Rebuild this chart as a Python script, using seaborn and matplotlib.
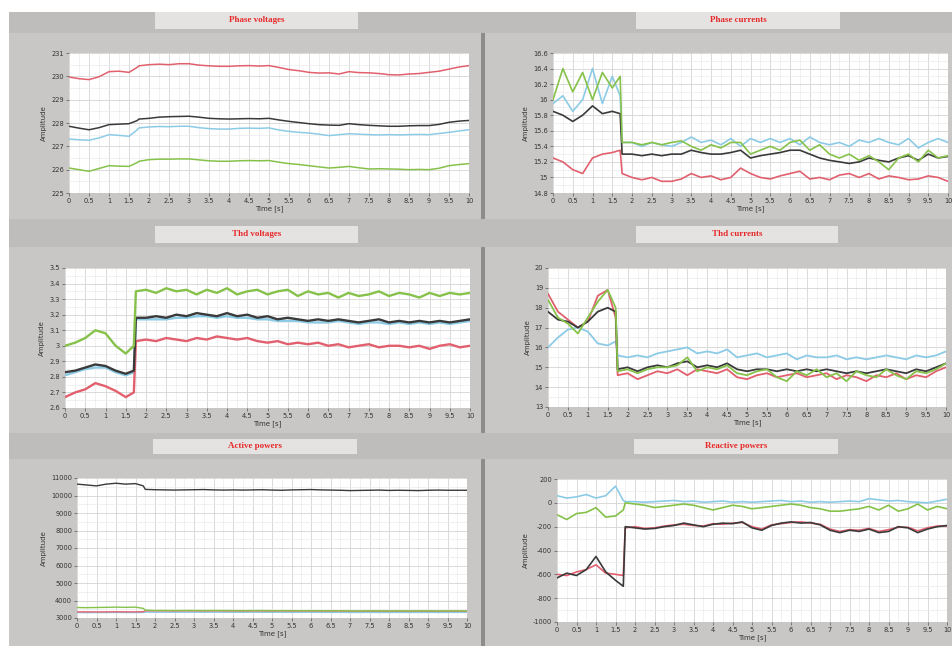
import numpy as np
import pandas as pd
import matplotlib
matplotlib.use("Agg")
import matplotlib.pyplot as plt
import matplotlib.patches as mpatches
from matplotlib.ticker import MultipleLocator, FormatStrFormatter
import seaborn as sns

# time axis [s] shared by every trace (two samples around the step at ~1.7 s)
time_s = [0, 0.25, 0.5, 0.75, 1, 1.25, 1.5, 1.7, 1.75,
          2, 2.25, 2.5, 2.75, 3, 3.25, 3.5, 3.75, 4, 4.25, 4.5, 4.75,
          5, 5.25, 5.5, 5.75, 6, 6.25, 6.5, 6.75, 7, 7.25, 7.5, 7.75,
          8, 8.25, 8.5, 8.75, 9, 9.25, 9.5, 9.75, 10]

phases = ['L1', 'N', 'L2', 'L3']
colors = {'L1': '#e2606e', 'N': '#3a3a3a', 'L2': '#8ccbe6', 'L3': '#86c24a'}

# phase voltages [V]
pv_l1 = [229.97, 229.9, 229.86, 229.98, 230.2, 230.22, 230.17, 230.38, 230.45,
         230.5, 230.52, 230.5, 230.54, 230.54, 230.48, 230.45, 230.43, 230.43, 230.45, 230.46, 230.44,
         230.46, 230.38, 230.29, 230.24, 230.17, 230.14, 230.15, 230.1, 230.2, 230.16, 230.15, 230.12,
         230.07, 230.06, 230.1, 230.12, 230.17, 230.22, 230.31, 230.4, 230.46]
pv_n = [227.86, 227.78, 227.71, 227.8, 227.93, 227.95, 227.97, 228.1, 228.17,
        228.2, 228.25, 228.27, 228.28, 228.29, 228.25, 228.2, 228.18, 228.17, 228.18, 228.19, 228.18,
        228.2, 228.13, 228.07, 228.02, 227.97, 227.93, 227.91, 227.9, 227.97, 227.93, 227.9, 227.88,
        227.86, 227.86, 227.88, 227.89, 227.89, 227.94, 228.03, 228.08, 228.11]
pv_l2 = [227.31, 227.28, 227.26, 227.36, 227.5, 227.47, 227.43, 227.7, 227.79,
         227.83, 227.85, 227.84, 227.86, 227.86, 227.8, 227.76, 227.74, 227.74, 227.77, 227.78, 227.77,
         227.79, 227.7, 227.64, 227.6, 227.57, 227.52, 227.46, 227.5, 227.54, 227.52, 227.5, 227.49,
         227.5, 227.49, 227.5, 227.51, 227.5, 227.55, 227.6, 227.66, 227.71]
pv_l3 = [226.07, 226.0, 225.93, 226.05, 226.17, 226.15, 226.14, 226.3, 226.36,
         226.43, 226.45, 226.45, 226.46, 226.46, 226.42, 226.38, 226.36, 226.36, 226.38, 226.39, 226.38,
         226.39, 226.32, 226.26, 226.22, 226.17, 226.12, 226.07, 226.1, 226.14, 226.08, 226.03, 226.04,
         226.03, 226.02, 226.0, 226.01, 226.0, 226.06, 226.17, 226.22, 226.26]

# phase currents [A]
pc_l1 = [15.25, 15.2, 15.1, 15.05, 15.25, 15.3, 15.32, 15.35, 15.05,
         15.0, 14.97, 15.0, 14.95, 14.95, 14.98, 15.05, 15.0, 15.02, 14.97, 15.0, 15.12,
         15.05, 15.0, 14.98, 15.02, 15.05, 15.08, 14.98, 15.0, 14.97, 15.03, 15.05, 15.0,
         15.05, 14.98, 15.02, 15.0, 14.97, 14.98, 15.02, 15.0, 14.95]
pc_n = [15.85, 15.8, 15.72, 15.8, 15.92, 15.82, 15.85, 15.82, 15.3,
        15.3, 15.28, 15.3, 15.28, 15.3, 15.3, 15.35, 15.32, 15.3, 15.3, 15.32, 15.35,
        15.25, 15.28, 15.3, 15.32, 15.35, 15.35, 15.3, 15.25, 15.22, 15.2, 15.18, 15.2,
        15.25, 15.22, 15.2, 15.25, 15.28, 15.22, 15.3, 15.25, 15.27]
pc_l2 = [15.95, 16.05, 15.85, 16.0, 16.4, 15.95, 16.3, 16.05, 15.45,
         15.45, 15.4, 15.45, 15.42, 15.4, 15.45, 15.52, 15.45, 15.48, 15.42, 15.5, 15.4,
         15.5, 15.45, 15.5, 15.45, 15.5, 15.42, 15.52, 15.45, 15.42, 15.45, 15.4, 15.48,
         15.45, 15.5, 15.45, 15.42, 15.5, 15.38, 15.45, 15.5, 15.45]
pc_l3 = [16.0, 16.4, 16.1, 16.35, 16.0, 16.35, 16.15, 16.3, 15.45,
         15.45, 15.42, 15.45, 15.42, 15.45, 15.47, 15.4, 15.35, 15.42, 15.38, 15.45, 15.45,
         15.3, 15.35, 15.4, 15.35, 15.45, 15.48, 15.35, 15.42, 15.3, 15.25, 15.3, 15.22,
         15.28, 15.2, 15.1, 15.25, 15.3, 15.2, 15.35, 15.25, 15.28]

# THD voltages [%]
tv_l1 = [2.67, 2.7, 2.72, 2.76, 2.74, 2.71, 2.67, 2.7, 3.03,
         3.04, 3.03, 3.05, 3.04, 3.03, 3.05, 3.04, 3.06, 3.05, 3.04, 3.05, 3.03,
         3.02, 3.03, 3.01, 3.02, 3.01, 3.02, 3.0, 3.01, 2.99, 3.0, 3.01, 2.99,
         3.0, 3.0, 2.99, 3.0, 2.98, 3.0, 3.01, 2.99, 3.0]
tv_n = [2.83, 2.84, 2.86, 2.88, 2.87, 2.84, 2.82, 2.84, 3.18,
        3.18, 3.19, 3.18, 3.2, 3.19, 3.21, 3.2, 3.19, 3.21, 3.19, 3.2, 3.18,
        3.19, 3.17, 3.18, 3.17, 3.16, 3.17, 3.16, 3.17, 3.16, 3.15, 3.16, 3.17,
        3.15, 3.16, 3.15, 3.16, 3.15, 3.16, 3.15, 3.16, 3.17]
tv_l2 = [2.81, 2.83, 2.85, 2.86, 2.86, 2.83, 2.81, 2.83, 3.17,
         3.17, 3.17, 3.17, 3.18, 3.18, 3.19, 3.19, 3.18, 3.19, 3.18, 3.18, 3.17,
         3.17, 3.16, 3.16, 3.16, 3.15, 3.15, 3.15, 3.16, 3.15, 3.14, 3.15, 3.15,
         3.14, 3.15, 3.14, 3.15, 3.14, 3.15, 3.14, 3.15, 3.16]
tv_l3 = [3.0, 3.02, 3.05, 3.1, 3.08, 3.0, 2.95, 3.0, 3.35,
         3.36, 3.34, 3.37, 3.35, 3.36, 3.33, 3.36, 3.34, 3.37, 3.33, 3.35, 3.36,
         3.33, 3.35, 3.36, 3.32, 3.35, 3.33, 3.34, 3.31, 3.34, 3.32, 3.33, 3.35,
         3.32, 3.34, 3.33, 3.31, 3.34, 3.32, 3.34, 3.33, 3.34]

# THD currents [%]
tc_l1 = [18.7, 17.8, 17.4, 17.0, 17.3, 18.6, 18.9, 17.5, 14.6,
         14.7, 14.4, 14.6, 14.8, 14.7, 14.9, 14.6, 14.9, 14.8, 14.7, 14.9, 14.5,
         14.4, 14.6, 14.7, 14.5, 14.6, 14.7, 14.5, 14.6, 14.7, 14.4, 14.6, 14.5,
         14.3, 14.6, 14.5, 14.7, 14.4, 14.6, 14.5, 14.8, 15.0]
tc_n = [17.8, 17.4, 17.3, 17.0, 17.3, 17.8, 18.0, 17.8, 14.9,
        15.0, 14.8, 15.0, 15.1, 15.0, 15.2, 15.3, 15.0, 15.1, 15.0, 15.2, 14.9,
        14.8, 14.9, 14.9, 14.8, 14.9, 14.8, 14.9, 14.8, 14.9, 14.8, 14.7, 14.8,
        14.7, 14.8, 14.9, 14.8, 14.7, 14.9, 14.8, 15.0, 15.2]
tc_l2 = [16.0, 16.5, 16.9, 17.0, 16.8, 16.2, 16.1, 16.3, 15.6,
         15.5, 15.6, 15.5, 15.7, 15.8, 15.9, 16.0, 15.7, 15.8, 15.7, 15.9, 15.5,
         15.6, 15.7, 15.5, 15.6, 15.7, 15.4, 15.6, 15.5, 15.5, 15.6, 15.4, 15.5,
         15.4, 15.5, 15.6, 15.5, 15.4, 15.6, 15.5, 15.6, 15.8]
tc_l3 = [18.4, 17.5, 17.2, 16.7, 17.5, 18.3, 18.9, 18.0, 14.8,
         14.9, 14.7, 14.9, 15.0, 15.0, 15.1, 15.5, 14.8, 15.0, 14.9, 15.1, 14.7,
         14.6, 14.8, 14.9, 14.5, 14.3, 14.8, 14.6, 14.9, 14.5, 14.7, 14.3, 14.8,
         14.6, 14.5, 14.9, 14.6, 14.4, 14.8, 14.7, 14.9, 15.2]

# active powers [W]
ap_l1 = [3350, 3350, 3345, 3350, 3355, 3350, 3350, 3360, 3410,
         3410, 3410, 3405, 3410, 3410, 3405, 3410, 3405, 3405, 3400, 3405, 3405,
         3400, 3405, 3400, 3400, 3405, 3400, 3400, 3395, 3395, 3390, 3395, 3395,
         3390, 3395, 3390, 3395, 3395, 3390, 3395, 3395, 3395]
ap_n = [10650, 10600, 10550, 10650, 10700, 10650, 10680, 10550, 10350,
        10330, 10320, 10310, 10320, 10330, 10340, 10320, 10310, 10320, 10310, 10320, 10330,
        10310, 10300, 10320, 10330, 10340, 10320, 10310, 10300, 10280, 10290, 10300, 10310,
        10290, 10300, 10290, 10280, 10300, 10310, 10300, 10300, 10300]
ap_l2 = [3310, 3305, 3310, 3310, 3315, 3310, 3310, 3315, 3330,
         3330, 3330, 3325, 3330, 3330, 3325, 3330, 3330, 3325, 3325, 3330, 3325,
         3325, 3325, 3320, 3325, 3325, 3320, 3320, 3320, 3315, 3315, 3320, 3315,
         3315, 3320, 3315, 3315, 3320, 3315, 3320, 3320, 3320]
ap_l3 = [3600, 3590, 3600, 3610, 3620, 3610, 3620, 3550, 3450,
         3430, 3430, 3425, 3430, 3430, 3425, 3430, 3425, 3425, 3420, 3425, 3425,
         3420, 3420, 3420, 3415, 3420, 3415, 3410, 3410, 3405, 3400, 3405, 3405,
         3400, 3405, 3400, 3405, 3405, 3400, 3405, 3405, 3405]

# reactive powers [var]
rp_l1 = [-600, -610, -580, -560, -520, -590, -600, -610, -210,
         -200, -215, -210, -195, -185, -180, -190, -195, -175, -180, -170, -165,
         -200, -220, -185, -175, -165, -160, -170, -180, -220, -240, -225, -230,
         -215, -240, -225, -205, -205, -235, -210, -195, -195]
rp_n = [-630, -590, -610, -560, -450, -580, -650, -700, -200,
        -210, -220, -215, -200, -190, -170, -185, -200, -180, -170, -175, -160,
        -210, -230, -190, -170, -160, -170, -165, -185, -230, -250, -230, -240,
        -220, -250, -240, -200, -210, -250, -220, -200, -190]
rp_l2 = [60, 40, 50, 70, 40, 60, 140, 20, 10,
         10, 5, 10, 15, 20, 10, 15, 5, 10, 15, 5, 10,
         5, 10, 15, 20, 10, 15, 5, 10, 5, 10, 15, 10,
         35, 25, 15, 20, 10, 5, 0, 15, 30]
rp_l3 = [-100, -140, -90, -80, -40, -120, -110, -60, 0,
         -10, -20, -40, -30, -20, -10, -20, -40, -60, -40, -20, -30,
         -50, -40, -30, -20, -10, -20, -40, -50, -70, -70, -60, -50,
         -30, -60, -20, -70, -50, -10, -60, -30, -50]

xticks = np.arange(0, 10.01, 0.5)

# (title, traces, y range, y step, line width, axes box px: l, t, r, b, title box px)
panels = [
    ('Phase voltages', [pv_l1, pv_n, pv_l2, pv_l3], (225, 231), 1, 1.1,
     (69, 53, 469, 193), (155, 12, 358, 29)),
    ('Phase currents', [pc_l1, pc_n, pc_l2, pc_l3], (14.8, 16.6), 0.2, 1.2,
     (553, 53, 948, 193), (636, 12, 840, 29)),
    ('Thd voltages', [tv_l1, tv_n, tv_l2, tv_l3], (2.6, 3.5), 0.1, 1.7,
     (65, 268, 470, 408), (155, 226, 358, 243)),
    ('Thd currents', [tc_l1, tc_n, tc_l2, tc_l3], (13, 20), 1, 1.3,
     (548, 268, 946, 407), (636, 226, 838, 243)),
    ('Active powers', [ap_l1, ap_n, ap_l2, ap_l3], (3000, 11000), 1000, 1.0,
     (77, 478, 467, 618), (153, 439, 357, 454)),
    ('Reactive powers', [rp_l1, rp_n, rp_l2, rp_l3], (-1000, 200), 200, 1.2,
     (557, 479, 947, 622), (634, 439, 838, 454)),
]

sns.set_style('white')
plt.rcParams['font.family'] = ['DejaVu Sans']

W, H = 952, 646
fig = plt.figure(figsize=(W / 100, H / 100), dpi=100)
fig.patch.set_facecolor('white')


def px_rect(x0, y0, x1, y1, color, z=-5):
    fig.patches.append(mpatches.Rectangle((x0 / W, 1 - y1 / H), (x1 - x0) / W, (y1 - y0) / H,
                                          transform=fig.transFigure, facecolor=color,
                                          edgecolor='none', zorder=z))


# LabVIEW-like gray front panel
px_rect(9, 12, W, H, '#c9c7c5', z=-10)
for y0, y1 in [(12, 33), (219, 247), (433, 459)]:
    px_rect(9, y0, W, y1, '#bfbdbb', z=-9)
px_rect(481, 33, 485, 219, '#8e8c8a', z=-9)
px_rect(481, 247, 485, 433, '#8e8c8a', z=-9)
px_rect(481, 459, 485, H, '#8e8c8a', z=-9)

for title, traces, ylim, ystep, lw, box, tbox in panels:
    px_rect(tbox[0], tbox[1], tbox[2], tbox[3], '#e4e3e2', z=-8)
    fig.text((tbox[0] + tbox[2]) / 2 / W, 1 - (tbox[1] + tbox[3]) / 2 / H, title,
             ha='center', va='center', color='#e82828', fontsize=6.5,
             fontweight='bold', family=['Liberation Serif', 'DejaVu Serif'], zorder=5)

    l, t, r, b = box
    ax = fig.add_axes([l / W, 1 - b / H, (r - l) / W, (b - t) / H])
    ax.set_zorder(2)
    ax.set_facecolor('white')

    df = pd.DataFrame({
        'time': time_s * 4,
        'value': sum(traces, []),
        'phase': [p for p in phases for _ in time_s],
    })
    sns.lineplot(data=df, x='time', y='value', hue='phase', hue_order=['L2', 'L1', 'N', 'L3'],
                 palette=colors, estimator=None, legend=False, linewidth=lw, ax=ax)

    ax.set_xlim(0, 10)
    ax.set_ylim(*ylim)
    ax.set_xticks(xticks)
    ax.xaxis.set_major_formatter(FormatStrFormatter('%g'))
    ax.yaxis.set_major_locator(MultipleLocator(ystep))
    ax.yaxis.set_major_formatter(FormatStrFormatter('%g'))
    ax.xaxis.set_minor_locator(MultipleLocator(0.25))
    ax.yaxis.set_minor_locator(MultipleLocator(ystep / 2))
    ax.grid(which='major', color='#d4d4d4', linewidth=0.6)
    ax.grid(which='minor', color='#ececec', linewidth=0.5)
    ax.set_axisbelow(True)
    for s in ax.spines.values():
        s.set_visible(False)
    ax.tick_params(which='major', length=2, width=0.5, color='#555555',
                   labelsize=4.8, labelcolor='#333333', pad=1.5,
                   bottom=True, left=True)
    ax.tick_params(which='minor', length=0)
    ax.set_xlabel('Time [s]', fontsize=5, color='#333333', labelpad=1)
    ax.set_ylabel('Amplitude', fontsize=5, color='#333333', labelpad=3)

fig.savefig('out.png', dpi=100, facecolor=fig.get_facecolor())
